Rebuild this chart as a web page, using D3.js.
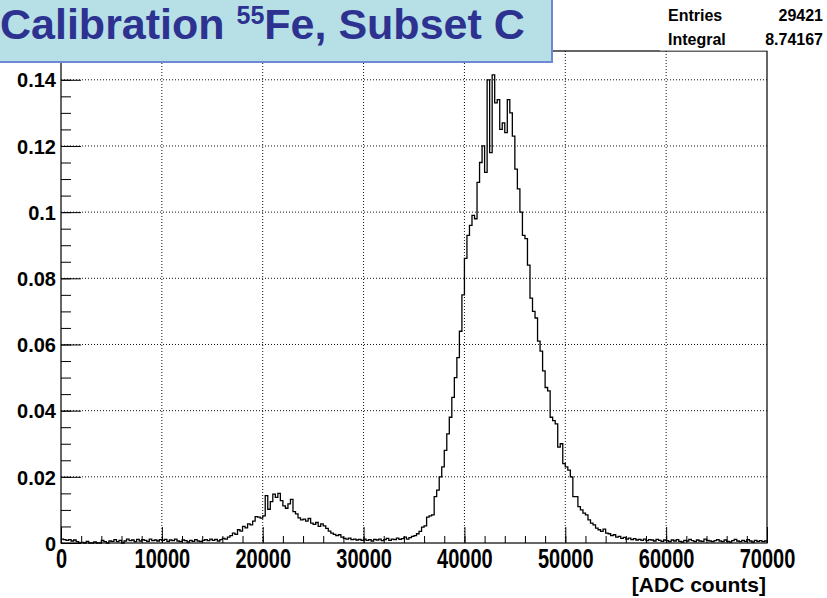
<!DOCTYPE html>
<html>
<head>
<meta charset="utf-8">
<script src="https://cdn.jsdelivr.net/npm/d3@7"></script>
<style>
  body { margin: 0; background: #fff; }
  svg { display: block; font-family: "Liberation Sans", Arial, sans-serif; }
  .grid line { stroke: #111; stroke-dasharray: 1,2; }
  .axis text { font-weight: bold; font-size: 20px; fill: #000; }
  .axis line { stroke: #000; }
  .axis path { display: none; }
</style>
</head>
<body>
<div id="chart"></div>
<script>
// histogram bins, 250 ADC wide, 0 .. 70000
var binWidth = 250;
var counts = [
  // 0 - 5000
  .0012,.0010,.0008,.0010,.0006,.0009,.0004,0,.0002,0,.0005,0,0,.0003,0,0,.0008,.0004,0,.0006,
  // 5000 - 10000
  .0005,.0010,.0004,.0008,0,.0006,.0012,.0007,.0009,.0004,.0011,.0006,.0010,.0008,.0005,.0012,.0007,.0009,.0006,.0010,
  // 10000 - 15000
  .0008,.0011,.0005,.0009,.0007,.0012,.0006,.0004,.0009,.0007,.0003,.0008,.0005,.0010,.0006,.0004,.0008,.0010,.0007,.0012,
  // 15000 - 20000
  .0008,.0011,.0006,.0010,.0014,.0012,.0018,.0022,.0030,.0026,.0040,.0036,.0050,.0046,.0058,.0055,.0066,.0080,.0078,.0075,
  // 20000 - 25000
  .0082,.0143,.0102,.0125,.0148,.0138,.0150,.0128,.0112,.0105,.0118,.0132,.0095,.0088,.0076,.0070,.0072,.0066,.0074,.0060,
  // 25000 - 30000
  .0056,.0062,.0050,.0058,.0052,.0044,.0036,.0030,.0026,.0022,.0025,.0018,.0014,.0012,.0015,.0010,.0012,.0009,.0011,.0008,
  // 30000 - 35000
  .0012,.0008,.0010,.0006,.0011,.0009,.0012,.0007,.0010,.0014,.0008,.0012,.0010,.0015,.0011,.0013,.0018,.0012,.0016,.0020,
  // 35000 - 40000
  .0022,.0028,.0035,.0048,.0052,.0078,.0082,.0085,.0140,.0160,.0200,.0230,.0280,.0330,.0380,.0440,.0500,.0560,.0640,.0750,
  // 40000 - 45000
  .0860,.0930,.0960,.0990,.0980,.1090,.1150,.1200,.1120,.1400,.1180,.1415,.1330,.1340,.1250,.1270,.1240,.1340,.1300,.1230,
  // 45000 - 50000
  .1130,.1070,.1000,.0930,.0920,.0840,.0740,.0700,.0680,.0610,.0580,.0520,.0470,.0460,.0380,.0370,.0360,.0290,.0300,.0240,
  // 50000 - 55000
  .0230,.0220,.0200,.0140,.0140,.0110,.0100,.0090,.0085,.0070,.0060,.0055,.0045,.0040,.0035,.0042,.0030,.0028,.0022,.0025,
  // 55000 - 60000
  .0018,.0020,.0014,.0017,.0012,.0015,.0010,.0013,.0009,.0011,.0008,.0012,.0007,.0010,.0009,.0006,.0011,.0008,.0005,.0009,
  // 60000 - 65000
  .0007,.0004,.0009,.0006,.0010,.0005,.0003,.0008,.0006,.0011,.0007,.0004,.0009,.0006,.0005,.0012,.0008,.0006,.0004,.0007,
  // 65000 - 70000
  .0010,.0006,.0004,.0009,.0005,.0003,.0007,.0011,.0006,.0004,.0008,.0005,.0010,.0006,.0003,.0008,.0005,.0007,.0004,.0006
];

var xTicks = [0, 10000, 20000, 30000, 40000, 50000, 60000, 70000];
var xMinorTicks = d3.range(0, 70001, 2000);
var yTicks = [0, 0.02, 0.04, 0.06, 0.08, 0.1, 0.12, 0.14];
var yMinorTicks = d3.range(0, 29).map(function(i) { return i * 0.005; });

var titleMain = "Calibration ";
var titleSup = "55";
var titleRest = "Fe, Subset C";
var xTitle = "[ADC counts]";
var statNames = ["Entries", "Integral"];
var statValues = ["29421", "8.74167"];

drawChart();

function drawChart() {
  var W = 827, H = 598;
  var pL = 61, pR = 767, pT = 51, pB = 543;   // plot frame edges

  var svg = d3.select("#chart").append("svg")
      .attr("width", W)
      .attr("height", H);

  var x = d3.scaleLinear().domain([0, 70000]).range([pL, pR]);
  var y = d3.scaleLinear().domain([0, 0.1487]).range([pB, pT]);

  // dotted grid at the major ticks
  svg.append("g").attr("class", "grid")
    .selectAll("line")
    .data(xTicks.filter(function(d) { return d > 0 && d < 70000; }))
    .enter().append("line")
      .attr("x1", function(d) { return x(d); })
      .attr("x2", function(d) { return x(d); })
      .attr("y1", pT)
      .attr("y2", pB);

  svg.append("g").attr("class", "grid")
    .selectAll("line")
    .data(yTicks.filter(function(d) { return d > 0; }))
    .enter().append("line")
      .attr("x1", pL)
      .attr("x2", pR)
      .attr("y1", function(d) { return y(d); })
      .attr("y2", function(d) { return y(d); });

  // histogram as a step line
  var pts = counts.map(function(v, i) { return [i * binWidth, v]; });
  pts.push([counts.length * binWidth, counts[counts.length - 1]]);

  var line = d3.line()
      .x(function(d) { return x(d[0]); })
      .y(function(d) { return y(d[1]); })
      .curve(d3.curveStepAfter);

  svg.append("path")
      .datum(pts)
      .attr("d", line)
      .attr("fill", "none")
      .attr("stroke", "#000")
      .attr("stroke-width", 1.3);

  // y axis, ticks point into the frame
  svg.append("g")
      .attr("class", "axis")
      .attr("transform", "translate(" + pL + ",0)")
      .call(d3.axisLeft(y).tickValues(yMinorTicks).tickSize(-10).tickFormat(""));

  svg.append("g")
      .attr("class", "axis")
      .attr("transform", "translate(" + pL + ",0)")
      .call(d3.axisLeft(y).tickValues(yTicks).tickSize(-20).tickPadding(5)
        .tickFormat(function(d) { return String(d); }))
    .selectAll("text")
      .attr("dy", "0.36em");

  // x axis
  svg.append("g")
      .attr("class", "axis")
      .attr("transform", "translate(0," + pB + ")")
      .call(d3.axisBottom(x).tickValues(xMinorTicks).tickSize(-7).tickFormat(""));

  svg.append("g")
      .attr("class", "axis")
      .attr("transform", "translate(0," + pB + ")")
      .call(d3.axisBottom(x).tickValues(xTicks).tickSize(-16)
        .tickFormat(d3.format("d")))
    .selectAll("text")
      .attr("y", 0)
      .attr("dy", null)
      .attr("transform", "translate(0,25) scale(1,1.4)");

  // frame
  svg.append("rect")
      .attr("x", pL).attr("y", pT)
      .attr("width", pR - pL).attr("height", pB - pT)
      .attr("fill", "none")
      .attr("stroke", "#000")
      .attr("stroke-width", 1.2);

  svg.append("text")
      .attr("x", pR - 1)
      .attr("y", 592)
      .attr("text-anchor", "end")
      .style("font-weight", "bold")
      .style("font-size", "21px")
      .text(xTitle);

  // stats box (white, no border)
  svg.append("rect")
      .attr("x", 660).attr("y", 0)
      .attr("width", W - 660).attr("height", pT - 0.5)
      .attr("fill", "#fff");

  var stats = svg.append("g")
      .style("font-weight", "bold")
      .style("font-size", "16px");

  stats.selectAll("text.name")
    .data(statNames)
    .enter().append("text")
      .attr("class", "name")
      .attr("x", 668)
      .attr("y", function(d, i) { return 21 + i * 24; })
      .text(function(d) { return d; });

  stats.selectAll("text.val")
    .data(statValues)
    .enter().append("text")
      .attr("class", "val")
      .attr("x", 823)
      .attr("y", function(d, i) { return 21 + i * 24; })
      .attr("text-anchor", "end")
      .text(function(d) { return d; });

  // title box
  svg.append("rect")
      .attr("x", -4).attr("y", -4)
      .attr("width", 556).attr("height", 66)
      .attr("fill", "#b6e0e6")
      .attr("stroke", "#7088d4")
      .attr("stroke-width", 2);

  var title = svg.append("text")
      .attr("x", 0)
      .attr("y", 39)
      .attr("fill", "#2d3190")
      .style("font-weight", "bold")
      .style("font-size", "43px");

  title.append("tspan").text(titleMain);
  title.append("tspan").attr("dy", -15).style("font-size", "25px").text(titleSup);
  title.append("tspan").attr("dy", 15).text(titleRest);
}
</script>
</body>
</html>
